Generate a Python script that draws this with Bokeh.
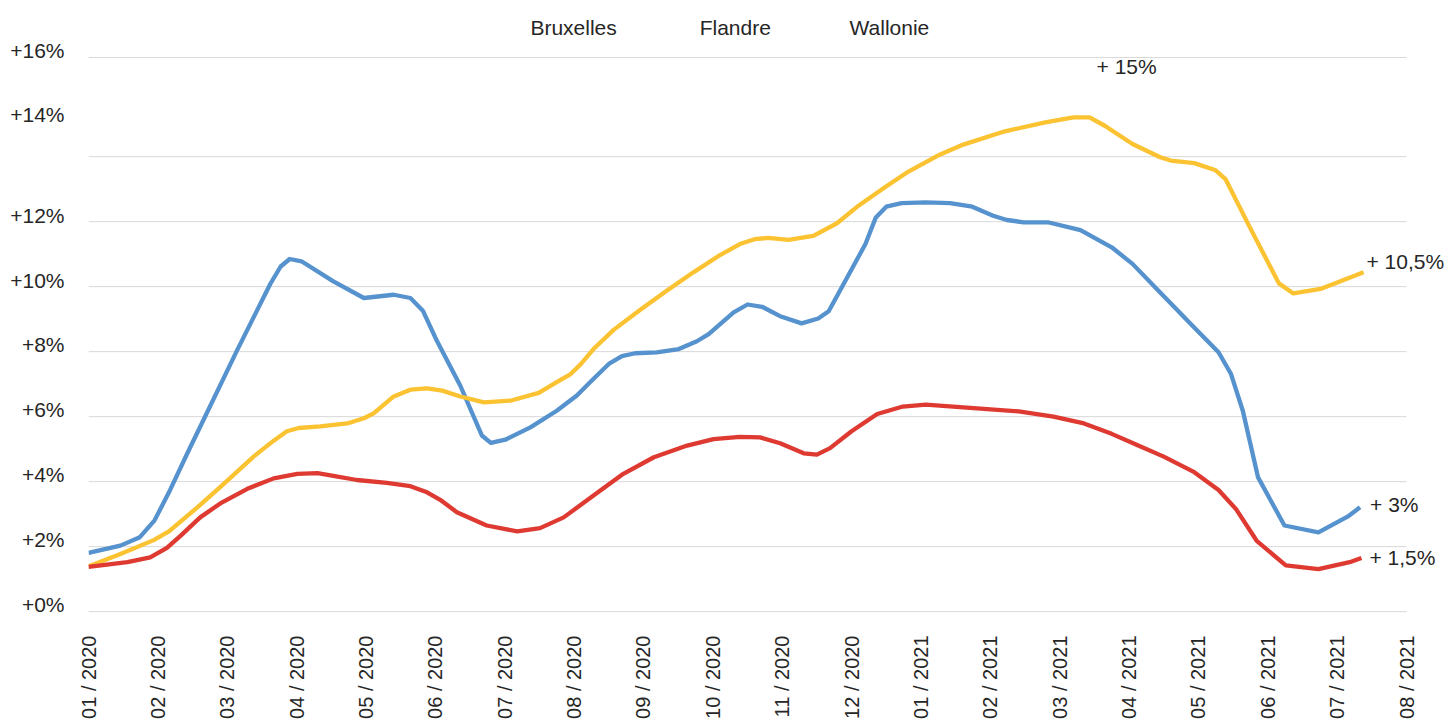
from bokeh.plotting import figure
from bokeh.models import Range1d, FixedTicker, Label
from bokeh.embed import file_html
from bokeh.resources import INLINE
import math

# ---------------- data ----------------
months = ["01 / 2020", "02 / 2020", "03 / 2020", "04 / 2020", "05 / 2020",
          "06 / 2020", "07 / 2020", "08 / 2020", "09 / 2020", "10 / 2020",
          "11 / 2020", "12 / 2020", "01 / 2021", "02 / 2021", "03 / 2021",
          "04 / 2021", "05 / 2021", "06 / 2021", "07 / 2021", "08 / 2021"]

grid_levels = [0, 2, 4, 6, 8, 10, 12, 14, 17.05]
ylabel_text = ["+0%", "+2%", "+4%", "+6%", "+8%", "+10%", "+12%", "+14%", "+16%"]
ylabel_pos = [0.22, 2.22, 4.22, 6.22, 8.22, 10.2, 12.2, 15.3, 17.26]

legend_names = ["Bruxelles", "Flandre", "Wallonie"]

# Bruxelles (blue) : x in months since 01/2020
bru_x = [0.00, 0.46, 0.74, 0.95, 1.16, 1.42, 2.14, 2.62, 2.77, 2.90, 3.07, 3.53,
         3.97, 4.40, 4.64, 4.82, 5.02, 5.36, 5.67, 5.80, 6.01, 6.37, 6.75, 7.04,
         7.23, 7.50, 7.69, 7.88, 8.19, 8.51, 8.77, 8.94, 9.30, 9.50, 9.71, 9.97,
         10.28, 10.52, 10.67, 11.20, 11.35, 11.50, 11.72, 12.07, 12.42, 12.74,
         13.04, 13.24, 13.48, 13.83, 14.30, 14.75, 15.05, 15.40, 15.89, 16.29,
         16.47, 16.64, 16.86, 17.24, 17.73, 18.15, 18.33]
bru_y = [1.81, 2.03, 2.29, 2.80, 3.67, 4.85, 8.03, 10.08, 10.62, 10.85, 10.78, 10.16,
         9.65, 9.75, 9.65, 9.26, 8.34, 6.95, 5.42, 5.19, 5.29, 5.67, 6.18, 6.65,
         7.06, 7.62, 7.86, 7.95, 7.98, 8.08, 8.32, 8.54, 9.21, 9.45, 9.38, 9.09,
         8.87, 9.02, 9.24, 11.31, 12.13, 12.46, 12.57, 12.59, 12.57, 12.46,
         12.18, 12.05, 11.98, 11.98, 11.74, 11.21, 10.70, 9.93, 8.85, 7.98,
         7.31, 6.18, 4.13, 2.65, 2.44, 2.92, 3.21]

# Flandre (yellow)
fla_x = [0.00, 0.46, 0.94, 1.16, 1.57, 1.95, 2.38, 2.67, 2.86, 3.03, 3.34, 3.73,
         3.97, 4.11, 4.40, 4.64, 4.88, 5.10, 5.36, 5.70, 6.08, 6.49, 6.75, 6.95,
         7.09, 7.28, 7.57, 7.95, 8.34, 8.72, 9.11, 9.39, 9.60, 9.80, 10.09, 10.45,
         10.79, 11.10, 11.47, 11.82, 12.27, 12.61, 13.21, 13.81, 14.20, 14.43,
         14.65, 15.05, 15.45, 15.60, 15.94, 16.24, 16.39, 16.74, 17.16, 17.37,
         17.76, 18.38]
fla_y = [1.39, 1.77, 2.20, 2.47, 3.21, 3.93, 4.77, 5.26, 5.55, 5.65, 5.70, 5.79,
         5.95, 6.10, 6.62, 6.83, 6.87, 6.80, 6.62, 6.44, 6.49, 6.73, 7.06, 7.31,
         7.60, 8.08, 8.67, 9.28, 9.88, 10.44, 10.98, 11.31, 11.46, 11.50, 11.44, 11.56,
         11.95, 12.49, 13.04, 13.54, 14.06, 14.37, 14.78, 15.06, 15.21, 15.21,
         14.95, 14.39, 13.98, 13.88, 13.80, 13.59, 13.31, 11.83, 10.10, 9.79,
         9.93, 10.44]

# Wallonie (red)
wal_x = [0.00, 0.56, 0.89, 1.13, 1.33, 1.61, 1.90, 2.29, 2.67, 3.01, 3.30, 3.53,
         3.87, 4.30, 4.64, 4.88, 5.07, 5.31, 5.74, 6.18, 6.51, 6.85, 7.28, 7.71,
         8.15, 8.63, 9.01, 9.39, 9.68, 9.97, 10.31, 10.50, 10.69, 11.00, 11.37,
         11.74, 12.07, 12.71, 13.41, 13.91, 14.35, 14.75, 15.10, 15.50, 15.94,
         16.29, 16.54, 16.84, 17.26, 17.73, 18.18, 18.35]
wal_y = [1.38, 1.52, 1.67, 1.96, 2.34, 2.90, 3.33, 3.78, 4.10, 4.24, 4.26, 4.18,
         4.05, 3.96, 3.86, 3.67, 3.44, 3.06, 2.65, 2.47, 2.57, 2.90, 3.57, 4.24,
         4.75, 5.11, 5.31, 5.38, 5.36, 5.18, 4.87, 4.83, 5.03, 5.55, 6.08,
         6.31, 6.37, 6.27, 6.16, 6.00, 5.79, 5.47, 5.14, 4.77, 4.29,
         3.74, 3.16, 2.18, 1.42, 1.31, 1.52, 1.65]

end_labels = ["+ 3%", "+ 10,5%", "+ 1,5%"]
peak_label = "+ 15%"

# ---------------- styling ----------------
BLUE = "#5592CE"
YELLOW = "#FBC232"
RED = "#DE3A31"
TXT = "#262626"
FONT = "Liberation Sans"
FS = "21px"
FS_X = "20px"

W, H = 1446, 722
LEFT, BOTTOM = 88, 106
PX_PER_MONTH = 69.37
PX_PER_PCT = 32.5
x_end = (W - LEFT) / PX_PER_MONTH
y_start = -0.15
y_end = y_start + (H - BOTTOM) / PX_PER_PCT

p = figure(width=W, height=H, output_backend="svg", toolbar_location=None,
           x_range=Range1d(0, x_end), y_range=Range1d(y_start, y_end),
           min_border_left=LEFT, min_border_right=0, min_border_top=0,
           min_border_bottom=BOTTOM)
p.outline_line_color = None
p.background_fill_color = "white"
p.border_fill_color = "white"
p.xgrid.visible = False
p.ygrid.visible = False

# horizontal gridlines, limited to the month span
n_m = len(months) - 1
p.segment(x0=[0] * len(grid_levels), x1=[n_m] * len(grid_levels),
          y0=grid_levels, y1=grid_levels, line_color="#D9D9D9", line_width=1)

# y axis (labels only)
p.yaxis.ticker = FixedTicker(ticks=ylabel_pos)
p.yaxis.major_label_overrides = {pos: t for pos, t in zip(ylabel_pos, ylabel_text)}
p.yaxis.axis_line_color = None
p.yaxis.major_tick_line_color = None
p.yaxis.minor_tick_line_color = None
p.yaxis.major_tick_out = 0
p.yaxis.major_tick_in = 0
p.yaxis.major_label_standoff = 24
p.yaxis.major_label_text_font = FONT
p.yaxis.major_label_text_font_size = FS
p.yaxis.major_label_text_color = TXT

# x axis
p.xaxis.ticker = FixedTicker(ticks=list(range(len(months))))
p.xaxis.major_label_overrides = {i: m for i, m in enumerate(months)}
p.xaxis.major_label_orientation = math.pi / 2
p.xaxis.axis_line_color = None
p.xaxis.major_tick_line_color = None
p.xaxis.minor_tick_line_color = None
p.xaxis.major_tick_out = 0
p.xaxis.major_tick_in = 0
p.xaxis.major_label_standoff = 19
p.xaxis.major_label_text_font = FONT
p.xaxis.major_label_text_font_size = FS_X
p.xaxis.major_label_text_color = TXT

# lines
p.line(bru_x, bru_y, line_color=BLUE, line_width=4.3, line_join="round")
p.line(fla_x, fla_y, line_color=YELLOW, line_width=4.3, line_join="round")
p.line(wal_x, wal_y, line_color=RED, line_width=4.3, line_join="round")

def lab(x, y, t, xo=0, yo=0, align="left"):
    p.add_layout(Label(x=x, y=y, text=t, x_offset=xo, y_offset=yo,
                       text_font=FONT, text_font_size=FS, text_color=TXT,
                       text_align=align, text_baseline="middle"))

# end labels, anchored on the last points of each series
lab(bru_x[-1], bru_y[-1], end_labels[0], xo=10, yo=3)
lab(fla_x[-1], fla_y[-1], end_labels[1], xo=3, yo=11)
lab(wal_x[-1], wal_y[-1], end_labels[2], xo=8, yo=1)
# peak label
ip = fla_y.index(max(fla_y))
lab(fla_x[ip], fla_y[ip], peak_label, xo=23, yo=51)

# legend texts (glyphs not visible in the reference)
leg_x = [6.37, 8.81, 10.97]
for lx, name in zip(leg_x, legend_names):
    lab(lx, 17.97, name)

open("out.html", "w").write(file_html(p, INLINE))
